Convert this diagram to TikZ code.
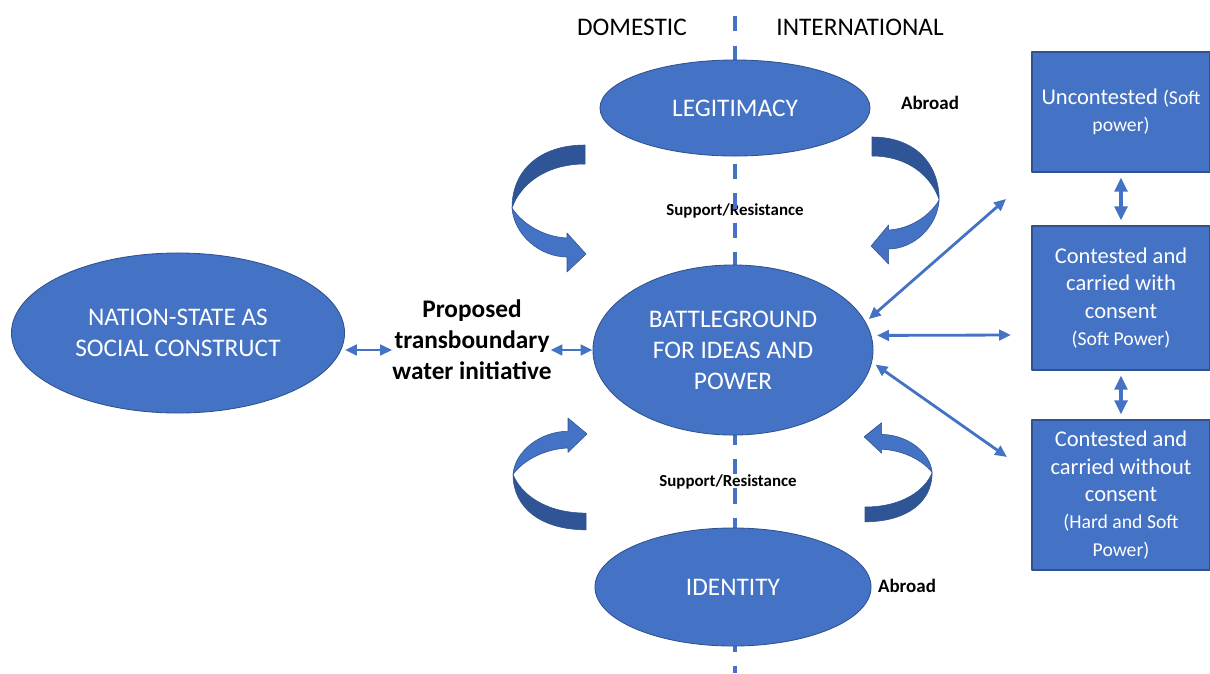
\documentclass[tikz,border=0pt]{standalone}
\usepackage{fontspec}
\setmainfont{Carlito}
\usetikzlibrary{shapes.geometric,arrows.meta}
\definecolor{fillblue}{HTML}{4472C4}
\definecolor{edgeblue}{HTML}{2F528F}
\definecolor{darkband}{HTML}{2F5597}

\begin{document}
\begin{tikzpicture}[x=0.025cm,y=-0.025cm,line join=round,
    ell/.style={ellipse,draw=edgeblue,fill=fillblue,text=white,inner sep=0pt,align=center,line width=0.6pt,font=\fontsize{18}{22}\selectfont},
    box/.style={rectangle,draw=edgeblue,fill=fillblue,text=white,inner sep=0pt,align=center,line width=0.8pt,minimum width=4.45cm,font=\fontsize{16}{19.5}\selectfont},
    link/.style={{Triangle[length=8.5pt,width=7.5pt]}-{Triangle[length=8.5pt,width=7.5pt]},draw=fillblue,line width=2pt},
    fatlink/.style={{Triangle[length=10pt,width=9pt]}-{Triangle[length=10pt,width=9pt]},draw=fillblue,line width=2.6pt},
    note/.style={font=\bfseries\fontsize{12}{14}\selectfont},
    divide/.style={draw=fillblue,line width=2.8pt,dash pattern=on 11pt off 10pt},
    bendarrow/.pic={
        % back of the ribbon, then the front half with the head
        \filldraw[fill=darkband,draw=edgeblue,line width=0.4pt] (0,-10) .. controls (-45,-10) and (-73,15) .. (-73,53) .. controls (-65,30) and (-40,9) .. (0,9) -- cycle;
        \filldraw[fill=fillblue,draw=edgeblue,line width=0.4pt] (-73,53) .. controls (-71,80) and (-45,102) .. (-18,102) -- (-18,117) -- (1,99) -- (-18,78) -- (-18,83) .. controls (-40,82) and (-62,70) .. (-73,53) -- cycle;
    }]
    \def\sm{\fontsize{14}{19.5}\selectfont}
    \useasboundingbox (0,0) rectangle (1210,673);

    \node[font=\fontsize{18}{22}\selectfont] (dom) at (632,27) {DOMESTIC};
    \node[font=\fontsize{18}{22}\selectfont] (intl) at (860,27) {INTERNATIONAL};
    \node[note] (sr1) at (735,211) {Support/Resistance};
    \node[note] (sr2) at (728,482) {Support/Resistance};
    \node[note,font=\bfseries\fontsize{13.5}{15}\selectfont] (abroad1) at (930,103) {Abroad};
    \node[note,font=\bfseries\fontsize{13.5}{15}\selectfont] (abroad2) at (907,586) {Abroad};

    % domestic | international
    \coordinate (divtop) at (735,16);
    \coordinate (divbot) at (735,673);
    \draw[divide] (divtop) -- (divbot);

    \node[ell,minimum width=6.75cm,minimum height=2.4cm] (legit) at (735,108) {LEGITIMACY};
    \node[ell,minimum width=7cm,minimum height=4.25cm] (battle) at (733,350) {BATTLEGROUND\\FOR IDEAS AND\\POWER};
    \node[ell,minimum width=6.9cm,minimum height=2.95cm] (ident) at (733,587) {IDENTITY};
    \node[ell,minimum width=8.325cm,minimum height=4cm] (nation) at (178,333) {NATION-STATE AS\\SOCIAL CONSTRUCT};
    \node[align=center,inner sep=1pt,font=\bfseries\fontsize{18}{22}\selectfont] (proposed) at (472,340) {Proposed\\transboundary\\water initiative};

    \node[box,minimum height=3cm] (box1) at (1121,112) {Uncontested {\sm(Soft}\\{\sm power)}};
    \node[box,minimum height=3.6cm] (box2) at (1121,298) {Contested and\\carried with\\consent\\{\sm(Soft Power)}};
    \node[box,minimum height=3.75cm] (box3) at (1121,495) {Contested and\\carried without\\consent\\{\sm(Hard and Soft}\\{\sm Power)}};

    % curved ribbons between the ellipses
    \pic at (585,155) {bendarrow};
    \pic[xscale=-0.92] at (872,147) {bendarrow};
    \pic[yscale=-0.88] at (586,521) {bendarrow};
    \pic[xscale=-0.92,yscale=-0.78] at (865,514) {bendarrow};

    \draw[link,shorten >=-1pt] (nation.east |- battle.west) -- (proposed.west |- battle.west);
    \draw[link,shorten <=-2pt] (proposed.east |- battle.west) -- (battle.west);

    \coordinate (fr1) at (1006,199);
    \coordinate (fr2) at (1011,335);
    \coordinate (fr3) at (1007,457);
    \draw[link,shorten <=3pt] (battle.12) -- (fr1);
    \draw[link,shorten <=4pt] (battle.6) -- (fr2);
    \draw[link,shorten <=3pt] (battle.-5) -- (fr3);

    \draw[fatlink,shorten <=3.5pt,shorten >=3.5pt] (box1) -- (box2);
    \draw[fatlink,shorten <=3.5pt,shorten >=3.5pt] (box2) -- (box3);
\end{tikzpicture}
\end{document}
